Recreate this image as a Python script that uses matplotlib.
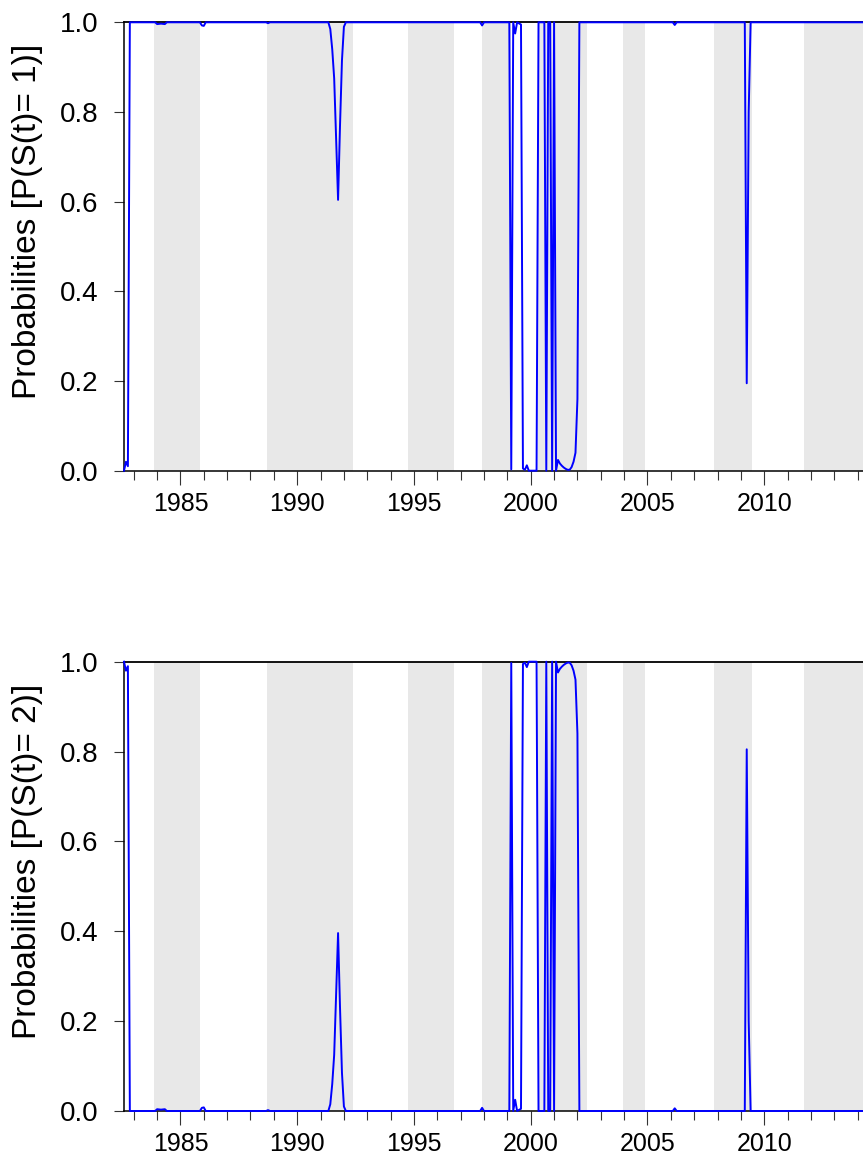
import matplotlib
matplotlib.use("Agg")
import matplotlib.pyplot as plt
from matplotlib.ticker import MultipleLocator, FormatStrFormatter
import pandas as pd

plt.rcParams['font.family'] = ['Liberation Sans', 'DejaVu Sans']

# filtered probabilities, monthly (only the months where the path changes)
p1_months = ["1982-08", "1982-09", "1982-10", "1982-11", "1983-12", "1984-01", "1984-03",
             "1984-05", "1984-06", "1985-11", "1985-12", "1986-01", "1986-02", "1988-09",
             "1988-10", "1988-11", "1991-05", "1991-06", "1991-07", "1991-08", "1991-09",
             "1991-10", "1991-11", "1991-12", "1992-01", "1992-02", "1997-11", "1997-12",
             "1998-01", "1999-02", "1999-03", "1999-04", "1999-05", "1999-06", "1999-08",
             "1999-09", "1999-10", "1999-11", "1999-12", "2000-04", "2000-05", "2000-08",
             "2000-09", "2000-10", "2000-11", "2000-12", "2001-01", "2001-02", "2001-03",
             "2001-04", "2001-05", "2001-06", "2001-07", "2001-08", "2001-09", "2001-10",
             "2001-11", "2001-12", "2002-01", "2002-02", "2006-02", "2006-03", "2006-04",
             "2009-03", "2009-04", "2009-05", "2009-06", "2014-05"]
p1_values = [0.00, 0.02, 0.01, 1.00, 1.00, 0.996, 0.997,
             0.996, 1.00, 1.00, 0.993, 0.992, 1.00, 1.00,
             0.998, 1.00, 1.00, 0.985, 0.94, 0.875, 0.74,
             0.604, 0.77, 0.915, 0.99, 1.00, 1.00, 0.993,
             1.00, 1.00, 0.003, 1.00, 0.975, 1.00, 0.995,
             0.005, 0.002, 0.012, 0.00, 0.00, 1.00, 1.00,
             0.00, 1.00, 1.00, 0.00, 1.00, 0.00, 0.024,
             0.016, 0.011, 0.007, 0.004, 0.002, 0.002, 0.008,
             0.02, 0.04, 0.16, 1.00, 1.00, 0.994, 1.00,
             1.00, 0.195, 0.80, 1.00, 1.00]

p2_months = p1_months
p2_values = [1.00, 0.98, 0.99, 0.00, 0.00, 0.004, 0.003,
             0.004, 0.00, 0.00, 0.007, 0.008, 0.00, 0.00,
             0.002, 0.00, 0.00, 0.015, 0.06, 0.125, 0.26,
             0.396, 0.23, 0.085, 0.01, 0.00, 0.00, 0.007,
             0.00, 0.00, 0.997, 0.00, 0.025, 0.00, 0.005,
             0.995, 0.998, 0.988, 1.00, 1.00, 0.00, 0.00,
             1.00, 0.00, 0.00, 1.00, 0.00, 1.00, 0.976,
             0.984, 0.989, 0.993, 0.996, 0.998, 0.998, 0.992,
             0.98, 0.96, 0.84, 0.00, 0.00, 0.006, 0.00,
             0.00, 0.805, 0.20, 0.00, 0.00]

# shaded periods (decimal years)
shade_start = [1983.87, 1988.70, 1994.74, 1997.91, 2000.31, 2003.94, 2007.86, 2011.70]
shade_end = [1985.84, 1992.37, 1996.71, 1999.16, 2002.41, 2004.89, 2009.49, 2016.50]


def to_dec(months):
    d = pd.to_datetime(months)
    return d.year + (d.month - 1) / 12.0


x1 = to_dec(p1_months)
x2 = to_dec(p2_months)

fig = plt.figure(figsize=(8.63, 11.58), dpi=100)
W, H = 863.0, 1158.0
left, right = 124.0, 867.0
ax1 = fig.add_axes([left / W, (H - 470.7) / H, (right - left) / W, 448.4 / H])
ax2 = fig.add_axes([left / W, (H - 1111.0) / H, (right - left) / W, 449.3 / H])

panels = [(ax1, x1, p1_values, "Probabilities [P(S(t)= 1)]"),
          (ax2, x2, p2_values, "Probabilities [P(S(t)= 2)]")]

for ax, xs, ys, lab in panels:
    for s, e in zip(shade_start, shade_end):
        ax.axvspan(s, e, color='#E8E8E8', lw=0, zorder=0)
    ax.plot(xs, ys, color='#0000FF', lw=1.4, zorder=3, clip_on=False)
    ax.set_xlim(1982.583, 2014.40)
    ax.set_ylim(0, 1)
    ax.xaxis.set_major_locator(MultipleLocator(5))
    ax.xaxis.set_minor_locator(MultipleLocator(1))
    ax.yaxis.set_major_locator(MultipleLocator(0.2))
    ax.yaxis.set_major_formatter(FormatStrFormatter('%.1f'))
    ax.xaxis.set_major_formatter(FormatStrFormatter('%d'))
    ax.tick_params(axis='both', which='both', direction='out', colors='#333333',
                   labelcolor='black', width=0.8)
    ax.tick_params(axis='y', which='major', length=7.2, pad=11, labelsize=20)
    ax.tick_params(axis='x', which='major', length=10, pad=5, labelsize=18)
    ax.tick_params(axis='x', which='minor', length=6.5)
    ax.tick_params(right=False, top=False)
    for side in ['left', 'bottom', 'top']:
        ax.spines[side].set_color('black')
        ax.spines[side].set_linewidth(1.1)
    ax.spines['top'].set_linewidth(1.3)
    ax.spines['top'].set_zorder(2)
    ax.spines['right'].set_visible(False)
    ax.set_ylabel(lab, fontsize=24)
    ax.yaxis.set_label_coords(-0.109, 0.555)

fig.savefig("out.png", dpi=100)
